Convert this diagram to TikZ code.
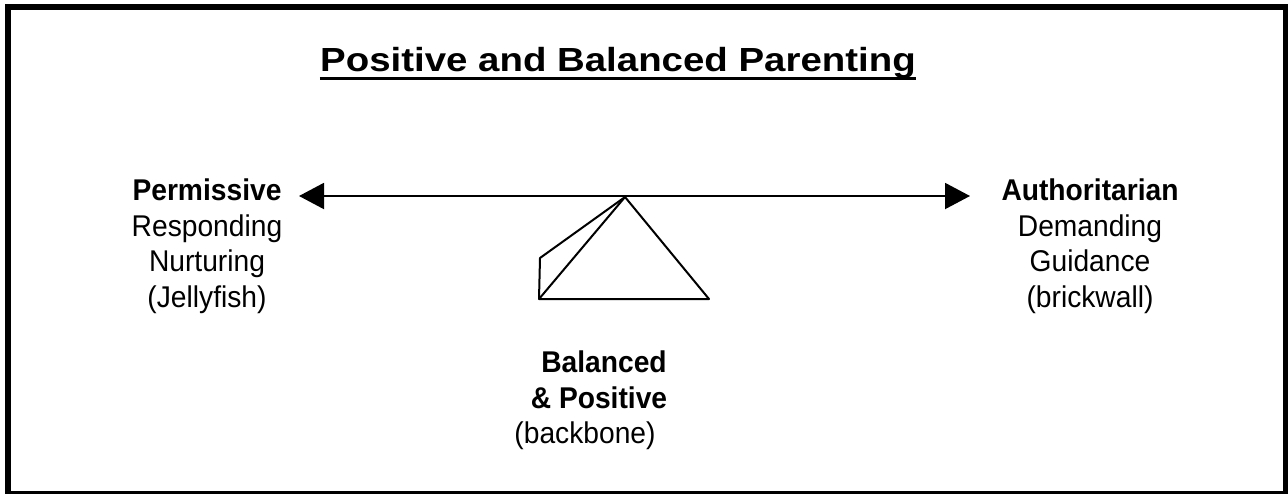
\documentclass[tikz,border=0pt]{standalone}
\usepackage{fontspec}
\usetikzlibrary{arrows.meta}
\newfontfamily\diagfont[FakeStretch=0.94]{Liberation Sans}
\newfontfamily\titlefont[FakeStretch=1.15]{Liberation Sans}
\tikzset{
  testo/.style={font=\diagfont\fontsize{15}{17.75}\selectfont, inner sep=0pt, anchor=base, align=center},
  linea/.style={line width=1pt}
}
\begin{document}
\begin{tikzpicture}[x=0.5pt,y=-0.5pt]
\useasboundingbox (0,0) rectangle (1288,493);

% Cornice
\draw[line width=3pt] (8,7) rectangle (1286,494);

% Titolo sottolineato
\node[testo,font=\titlefont\fontsize{16.7}{19}\selectfont] (titolo) at (618,71) {\textbf{Positive and Balanced Parenting}};
\draw[line width=1.5pt] ([yshift=-3.5pt]titolo.base west) -- ([yshift=-3.5pt]titolo.base east);

% Estremi della scala (base = ultima riga)
\node[testo] (permissivo) at (207,307) {\textbf{Permissive}\\Responding\\Nurturing\\(Jellyfish)};
\node[testo] (autoritario) at (1090,307) {\textbf{Authoritarian}\\Demanding\\Guidance\\(brickwall)};

% Centro
\node[testo] (bil1) at (604,372) {\textbf{Balanced}};
\node[testo] (bil2) at (599,408) {\textbf{\& Positive}};
\node[testo] (bil3) at (585,443) {(backbone)};

% Freccia doppia
\coordinate (sx) at (299,196);
\coordinate (dx) at (970,196);
\draw[linea,{Triangle[length=12.5pt,width=13pt]}-{Triangle[length=12.5pt,width=13pt]}] (sx) -- (dx);

% Fulcro (triangolo)
\coordinate (vertice) at (625,197);
\coordinate (bsx) at (539,299);
\coordinate (bdx) at (709,299);
\coordinate (piega) at (540,258);
\draw[linea,line join=round] (vertice) -- (bdx) -- (bsx) -- cycle;
\draw[linea,line join=round] (vertice) -- (piega) -- (bsx);

\end{tikzpicture}
\end{document}
